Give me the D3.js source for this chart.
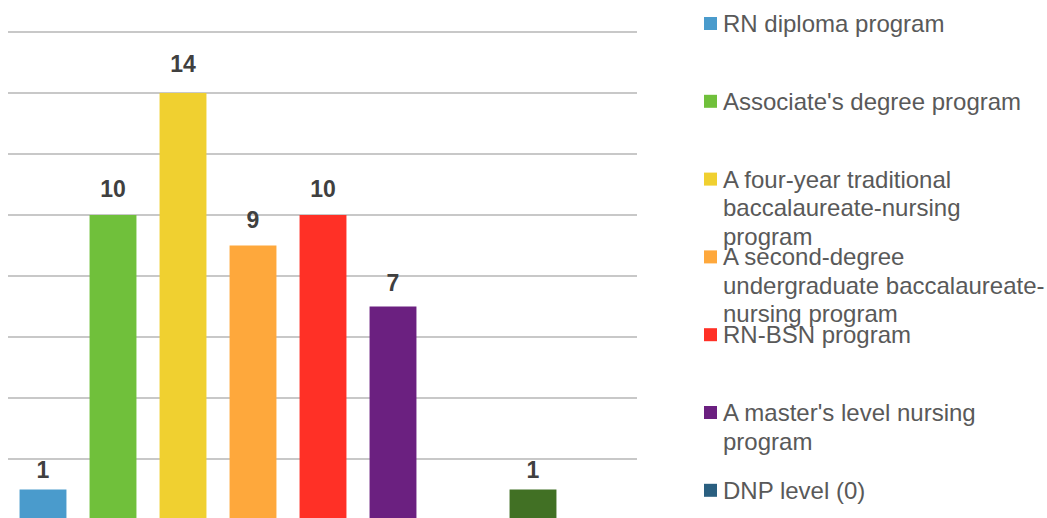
<!DOCTYPE html>
<html>
<head>
<meta charset="utf-8">
<script src="https://cdn.jsdelivr.net/npm/d3@7"></script>
<style>
  html, body { margin: 0; padding: 0; background: #ffffff; }
  svg { display: block; font-family: "Liberation Sans", Arial, Helvetica, sans-serif; }
</style>
</head>
<body>
<svg id="chart" width="1047" height="518"></svg>
<script>
// ---- data ----
const categories = [
  "RN diploma program",
  "Associate's degree program",
  "A four-year traditional baccalaureate-nursing program",
  "A second-degree undergraduate baccalaureate-nursing program",
  "RN-BSN program",
  "A master's level nursing program",
  "DNP level (0)",
  "Other"
];
const values = [1, 10, 14, 9, 10, 7, 0, 1];
const colors = ["#4a9bcc", "#70c03b", "#f0d030", "#fea83c", "#ff3026", "#6b2080", "#2a5f80", "#417024"];
const legendLines = [
  ["RN diploma program"],
  ["Associate's degree program"],
  ["A four-year traditional", "baccalaureate-nursing", "program"],
  ["A second-degree", "undergraduate baccalaureate-", "nursing program"],
  ["RN-BSN program"],
  ["A master's level nursing", "program"],
  ["DNP level (0)"]
];
const gridTicks = [2, 4, 6, 8, 10, 12, 14, 16];

// ---- layout ----
const svg = d3.select("#chart");
const plotLeft = 8, plotRight = 637;

const y = d3.scaleLinear().domain([0, 16]).range([520, 32]);
const x = d3.scaleBand()
  .domain(categories)
  .range([plotLeft, plotLeft + 70 * categories.length])
  .paddingInner(0.33)
  .paddingOuter(0.165);

// gridlines
svg.append("g").selectAll("line")
  .data(gridTicks)
  .join("line")
  .attr("x1", plotLeft).attr("x2", plotRight)
  .attr("y1", d => y(d)).attr("y2", d => y(d))
  .attr("stroke", "#c8c8c8")
  .attr("stroke-width", 2);

// bars
svg.append("g").selectAll("rect")
  .data(categories)
  .join("rect")
  .attr("x", d => x(d))
  .attr("width", x.bandwidth())
  .attr("y", (d, i) => y(values[i]))
  .attr("height", (d, i) => y(0) - y(values[i]))
  .attr("fill", (d, i) => colors[i]);

// value labels
svg.append("g").selectAll("text")
  .data(categories.filter((d, i) => values[i] > 0))
  .join("text")
  .attr("x", d => x(d) + x.bandwidth() / 2)
  .attr("y", d => { const v = values[categories.indexOf(d)]; return y(v) - 11 - 0.7 * v; })
  .attr("text-anchor", "middle")
  .attr("font-size", 23)
  .attr("font-weight", "bold")
  .attr("fill", "#404040")
  .text(d => values[categories.indexOf(d)]);

// legend
const legend = svg.append("g");
const entryStep = 77.8;
legendLines.forEach((lines, i) => {
  const top = 17 + i * entryStep;
  legend.append("rect")
    .attr("x", 704).attr("y", top)
    .attr("width", 13).attr("height", 13)
    .attr("fill", colors[i]);
  const t = legend.append("text")
    .attr("x", 723)
    .attr("y", top + 15)
    .attr("font-size", 24)
    .attr("fill", "#595959");
  lines.forEach((ln, j) => {
    t.append("tspan")
      .attr("x", 723)
      .attr("dy", j === 0 ? 0 : 28.5)
      .text(ln);
  });
});
</script>
</body>
</html>
